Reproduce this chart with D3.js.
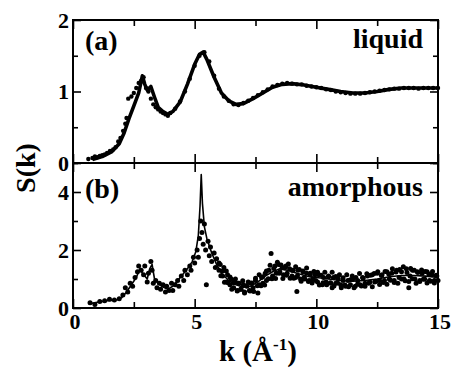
<!DOCTYPE html>
<html>
<head>
<meta charset="utf-8">
<script src="https://cdn.jsdelivr.net/npm/d3@7"></script>
<style>
  body { margin: 0; background: #fff; }
  svg { display: block; }
  .tick line { stroke: #000; stroke-width: 1.6; }
</style>
</head>
<body>
<svg width="455" height="374" font-family="'Liberation Serif', 'DejaVu Serif', serif" font-weight="bold"></svg>
<script>
// tick values
const xMajor = [0, 5, 10, 15];
const xMinor = [2.5, 7.5, 12.5];
const aMajor = [0, 1, 2];
const aMinor = [0.5, 1.5];
const bMajor = [0, 2, 4];
const bMinor = [1, 3, 5];

// (a) liquid: simulation line [k, S]
const simA = [
  [0.8, 0.05], [1.2, 0.09], [1.6, 0.16], [1.9, 0.27], [2.1, 0.42], [2.3, 0.62], [2.5, 0.8],
  [2.7, 0.98], [2.85, 1.22], [2.95, 1.1], [3.05, 1.02], [3.2, 1.07], [3.35, 0.92], [3.5, 0.78],
  [3.7, 0.72], [3.9, 0.68], [4.1, 0.72], [4.4, 0.85], [4.7, 1.1], [5.0, 1.38], [5.2, 1.52],
  [5.35, 1.55], [5.5, 1.45], [5.8, 1.2], [6.1, 0.98], [6.4, 0.87], [6.7, 0.82], [7.0, 0.83],
  [7.4, 0.9], [7.8, 0.98], [8.2, 1.06], [8.6, 1.1], [9.0, 1.11], [9.5, 1.09], [10.0, 1.06],
  [10.5, 1.03], [11.0, 1.0], [11.5, 0.98], [12.0, 0.98], [12.5, 1.0], [13.0, 1.03],
  [13.5, 1.05], [14.0, 1.05], [14.5, 1.05], [15.0, 1.05]
];

// (a) liquid: experiment points [k, S]
const expA = [
  [0.63, 0.055], [0.8, 0.07], [0.9, 0.09], [1.0, 0.08], [1.1, 0.1], [1.2, 0.11], [1.3, 0.12],
  [1.4, 0.14], [1.52, 0.17], [1.65, 0.19], [1.75, 0.22], [1.86, 0.3], [1.95, 0.35], [2.06, 0.45],
  [2.15, 0.55], [2.2, 0.63], [2.27, 0.9], [2.4, 0.93], [2.5, 0.98], [2.6, 1.05], [2.7, 1.12],
  [2.8, 1.15], [2.9, 1.2], [3.0, 1.05], [3.1, 1.0], [3.2, 0.9], [3.3, 0.82], [3.4, 0.78],
  [3.5, 0.75], [3.6, 0.72], [3.7, 0.7], [3.8, 0.68], [3.9, 0.66], [4.0, 0.7], [4.2, 0.76],
  [4.4, 0.86], [4.6, 1.0], [4.8, 1.18], [5.0, 1.36], [5.2, 1.5], [5.4, 1.55], [5.6, 1.42],
  [5.8, 1.22], [6.0, 1.04], [6.2, 0.93], [6.4, 0.87], [6.6, 0.82], [6.8, 0.81], [7.0, 0.84],
  [7.2, 0.87], [7.4, 0.91], [7.6, 0.95], [7.8, 0.99], [8.0, 1.03], [8.2, 1.07], [8.4, 1.09],
  [8.6, 1.11], [8.8, 1.12], [9.0, 1.11], [9.2, 1.1], [9.4, 1.1], [9.6, 1.08], [9.8, 1.07],
  [10.0, 1.06], [10.2, 1.05], [10.4, 1.03], [10.6, 1.02], [10.8, 1.0], [11.0, 0.99],
  [11.2, 0.98], [11.4, 0.97], [11.6, 0.97], [11.8, 0.97], [12.0, 0.98], [12.2, 0.99],
  [12.4, 1.0], [12.6, 1.01], [12.8, 1.02], [13.0, 1.03], [13.2, 1.04], [13.4, 1.04],
  [13.6, 1.05], [13.8, 1.05], [14.0, 1.05], [14.2, 1.04], [14.4, 1.05], [14.6, 1.05],
  [14.8, 1.05], [15.0, 1.05]
];

// (b) amorphous: simulation line [k, S]
const simB = [
  [0.7, 0.15], [1.0, 0.2], [1.4, 0.25], [1.8, 0.28], [2.0, 0.35], [2.2, 0.55], [2.4, 0.8],
  [2.6, 1.05], [2.75, 1.35], [2.85, 1.2], [2.95, 1.1], [3.05, 1.0], [3.15, 1.35], [3.25, 1.5],
  [3.35, 1.0], [3.5, 0.85], [3.7, 0.72], [3.9, 0.65], [4.1, 0.75], [4.3, 0.95], [4.5, 1.15],
  [4.7, 1.35], [4.9, 1.6], [5.05, 1.95], [5.15, 2.5], [5.22, 3.5], [5.27, 4.6], [5.32, 3.6],
  [5.4, 2.8], [5.5, 2.4], [5.7, 1.9], [5.9, 1.5], [6.1, 1.2], [6.4, 0.95], [6.7, 0.8],
  [7.0, 0.72], [7.3, 0.75], [7.6, 0.9], [7.9, 1.1], [8.2, 1.25], [8.5, 1.35], [8.8, 1.3],
  [9.2, 1.2], [9.6, 1.1], [10.0, 1.05], [10.5, 1.0], [11.0, 0.95], [11.5, 0.92], [12.0, 0.95],
  [12.5, 1.0], [13.0, 1.08], [13.5, 1.12], [14.0, 1.12], [14.5, 1.1], [15.0, 1.05]
];

// (b) amorphous: experiment points [k, S]
const expB = [
  [0.7, 0.18], [0.9, 0.12], [1.1, 0.22], [1.3, 0.25], [1.5, 0.3], [1.7, 0.28], [1.9, 0.32],
  [2.05, 0.45], [2.15, 0.7], [2.25, 0.55], [2.35, 0.85], [2.45, 0.75], [2.55, 1.05], [2.65, 1.25],
  [2.7, 1.45], [2.8, 1.3], [2.9, 1.15], [2.95, 1.45], [3.05, 0.9], [3.1, 1.2], [3.2, 1.6],
  [3.25, 1.3], [3.3, 0.85], [3.4, 0.95], [3.45, 0.7], [3.55, 0.85], [3.6, 0.65], [3.7, 0.8],
  [3.8, 0.55], [3.85, 0.75], [3.95, 0.6], [4.05, 0.85], [4.1, 0.6], [4.2, 0.8], [4.3, 0.95],
  [4.35, 0.75], [4.45, 1.1], [4.55, 0.95], [4.6, 1.3], [4.7, 1.15], [4.8, 1.45], [4.85, 1.3],
  [4.95, 1.75], [5.0, 1.55], [5.1, 2.0], [5.15, 1.75], [5.2, 2.4], [5.25, 3.0], [5.3, 2.6],
  [5.35, 2.2], [5.4, 2.9], [5.45, 2.0], [5.48, 0.8], [5.55, 2.3], [5.6, 1.8], [5.65, 2.1],
  [5.7, 1.6], [5.8, 1.9], [5.85, 1.4], [5.9, 1.7], [6.0, 1.3], [6.05, 1.5], [6.15, 1.1],
  [6.2, 1.4], [6.3, 0.9], [6.35, 1.15], [6.45, 0.8], [6.5, 1.0], [6.6, 0.7], [6.65, 0.9],
  [6.75, 0.6], [6.8, 0.85], [6.9, 0.65], [7.0, 0.8], [7.05, 0.55], [7.15, 0.75], [7.25, 0.6],
  [7.3, 0.85], [7.4, 0.7], [7.5, 0.95], [7.6, 0.52], [7.65, 0.8], [7.75, 1.05], [7.8, 0.85],
  [7.9, 1.2], [7.95, 0.95], [8.05, 1.3], [8.14, 1.88], [8.2, 1.1], [8.3, 1.45], [8.35, 1.2],
  [8.45, 1.5], [8.5, 1.25], [8.6, 1.4], [8.65, 1.15], [8.75, 1.45], [8.8, 1.2], [8.9, 1.35],
  [9.0, 1.1], [9.05, 1.3], [9.15, 1.05], [9.2, 0.57], [9.25, 1.3], [9.35, 1.0], [9.45, 1.25],
  [9.5, 1.05], [9.6, 1.2], [9.7, 0.95], [9.75, 1.2], [9.85, 1.0], [9.95, 1.15], [10.05, 0.9],
  [10.1, 1.15], [10.25, 0.8], [10.3, 1.05], [10.4, 0.9], [10.5, 1.1], [10.6, 0.85], [10.65, 0.7],
  [10.7, 1.05], [10.8, 0.85], [10.9, 1.0], [11.0, 0.8], [11.1, 0.95], [11.2, 0.75], [11.3, 0.95],
  [11.4, 0.8], [11.5, 1.0], [11.6, 0.75], [11.7, 0.95], [11.8, 0.8], [11.9, 1.05], [12.0, 0.85],
  [12.1, 1.1], [12.2, 0.9], [12.3, 1.15], [12.4, 0.9], [12.5, 1.2], [12.6, 0.95], [12.7, 1.15],
  [12.8, 0.95], [12.9, 1.25], [13.0, 1.0], [13.1, 1.2], [13.2, 0.95], [13.3, 1.3], [13.4, 1.05],
  [13.5, 1.25], [13.6, 1.0], [13.7, 1.35], [13.8, 0.7], [13.85, 1.1], [13.95, 1.3], [14.05, 1.0],
  [14.15, 1.25], [14.25, 0.95], [14.35, 1.2], [14.45, 1.0], [14.55, 1.25], [14.65, 0.95],
  [14.75, 1.15], [14.85, 0.95], [14.95, 1.1],
  // second scan over the high-k band
  [6.0, 1.55], [6.075, 1.11], [6.15, 1.28], [6.225, 0.89], [6.3, 1.28], [6.375, 0.87],
  [6.45, 1.07], [6.525, 0.65], [6.6, 0.87], [6.675, 1.0], [6.75, 0.59], [6.825, 0.85],
  [6.9, 0.65], [6.975, 0.94], [7.05, 0.52], [7.125, 0.77], [7.2, 0.9], [7.275, 0.59],
  [7.35, 0.86], [7.425, 0.57], [7.5, 1.03], [7.575, 0.77], [7.65, 1.15], [7.725, 0.77],
  [7.8, 1.08], [7.875, 0.79], [7.95, 1.28], [8.025, 1.01], [8.1, 1.47], [8.175, 1.01],
  [8.25, 1.36], [8.325, 1.02], [8.4, 1.58], [8.475, 1.2], [8.55, 1.48], [8.625, 1.02],
  [8.7, 1.39], [8.775, 1.13], [8.85, 1.52], [8.925, 1.03], [9.0, 1.3], [9.075, 1.03],
  [9.15, 1.42], [9.225, 1.11], [9.3, 1.33], [9.375, 0.92], [9.45, 1.28], [9.525, 1.0],
  [9.6, 1.38], [9.675, 0.91], [9.75, 1.14], [9.825, 0.86], [9.9, 1.26], [9.975, 0.95],
  [10.05, 1.23], [10.125, 0.79], [10.2, 1.13], [10.275, 0.87], [10.35, 1.23], [10.425, 0.8],
  [10.5, 1.08], [10.575, 0.87], [10.65, 1.23], [10.725, 0.76], [10.8, 1.09], [10.875, 0.86],
  [10.95, 1.15], [11.025, 0.7], [11.1, 1.04], [11.175, 0.79], [11.25, 1.15], [11.325, 0.73],
  [11.4, 0.97], [11.475, 1.1], [11.55, 0.7], [11.625, 1.05], [11.7, 0.83], [11.775, 1.19],
  [11.85, 0.76], [11.925, 1.03], [12.0, 0.75], [12.075, 1.18], [12.15, 0.85], [12.225, 1.13],
  [12.3, 0.73], [12.375, 1.19], [12.45, 0.92], [12.525, 1.25], [12.6, 0.81], [12.675, 1.12],
  [12.75, 0.88], [12.825, 1.26], [12.9, 0.82], [12.975, 1.17], [13.05, 0.96], [13.125, 1.35],
  [13.2, 0.88], [13.275, 1.24], [13.35, 0.85], [13.425, 1.33], [13.5, 1.0], [13.575, 1.42],
  [13.65, 0.94], [13.725, 1.22], [13.8, 0.91], [13.875, 1.36], [13.95, 1.01], [14.025, 1.3],
  [14.1, 0.85], [14.175, 1.22], [14.25, 0.91], [14.325, 1.31], [14.4, 0.99], [14.475, 1.26],
  [14.55, 0.86], [14.625, 1.17], [14.7, 0.92], [14.775, 1.26], [14.85, 0.86], [14.925, 1.13],
  [15.0, 0.95]
];

const svg = d3.select("svg");
const x = d3.scaleLinear().domain([0, 15]).range([73, 438]);
const yA = d3.scaleLinear().domain([0, 2]).range([163, 20]);
const yB = d3.scaleLinear().domain([0, 5]).range([308, 163]);

function drawPanel(y, major, minor, sim, exp, simWidth, dotR, label, name, textDy) {
  const g = svg.append("g");
  const [y0, y1] = y.range();

  // ticks, all pointing inward
  [[d3.axisLeft(y), `translate(${x(0)},0)`], [d3.axisRight(y), `translate(${x(15)},0)`]]
    .forEach(([ax, tr]) => {
      g.append("g").attr("transform", tr)
        .call(ax.tickValues(major).tickSize(-8).tickFormat(""))
        .call(s => s.select(".domain").remove());
      g.append("g").attr("transform", tr)
        .call(ax.tickValues(minor).tickSize(-5).tickFormat(""))
        .call(s => s.select(".domain").remove());
    });
  [[d3.axisTop(x), `translate(0,${y1})`], [d3.axisBottom(x), `translate(0,${y0})`]]
    .forEach(([ax, tr]) => {
      g.append("g").attr("transform", tr)
        .call(ax.tickValues(xMajor).tickSize(-9).tickFormat(""))
        .call(s => s.select(".domain").remove());
      g.append("g").attr("transform", tr)
        .call(ax.tickValues(xMinor).tickSize(-6).tickFormat(""))
        .call(s => s.select(".domain").remove());
    });

  // y tick labels
  g.selectAll("text.ylab").data(major).join("text")
    .attr("class", "ylab")
    .attr("x", 69)
    .attr("y", d => y(d))
    .attr("dy", "0.36em")
    .attr("text-anchor", "end")
    .attr("font-size", 22)
    .text(d => d);

  // frame
  g.append("rect")
    .attr("x", x(0)).attr("y", y1)
    .attr("width", x(15) - x(0)).attr("height", y0 - y1)
    .attr("fill", "none").attr("stroke", "#000").attr("stroke-width", 2);

  // experiment dots
  g.selectAll("circle").data(exp).join("circle")
    .attr("cx", d => x(d[0]))
    .attr("cy", d => y(d[1]))
    .attr("r", dotR)
    .attr("fill", "#000");

  // simulation line
  g.append("path")
    .datum(sim)
    .attr("fill", "none")
    .attr("stroke", "#000")
    .attr("stroke-width", simWidth)
    .attr("stroke-linejoin", "round")
    .attr("d", d3.line().x(d => x(d[0])).y(d => y(d[1])));

  g.append("text").attr("x", 85).attr("y", y1 + textDy).attr("font-size", 28).text(label);
  g.append("text").attr("x", 423).attr("y", y1 + textDy - 2).attr("text-anchor", "end")
    .attr("font-size", 28).text(name);
}

drawPanel(yA, aMajor, aMinor, simA, expA, 3.6, 2.2, "(a)", "liquid", 30);
drawPanel(yB, bMajor, bMinor, simB, expB, 1.6, 2.5, "(b)", "amorphous", 35);

// x tick labels
svg.selectAll("text.xlab").data(xMajor).join("text")
  .attr("class", "xlab")
  .attr("x", d => x(d) + 2)
  .attr("y", 329)
  .attr("text-anchor", "middle")
  .attr("font-size", 22)
  .text(d => d);

// axis titles
svg.append("text")
  .attr("transform", "translate(35,168) rotate(-90)")
  .attr("text-anchor", "middle")
  .attr("font-size", 28)
  .text("S(k)");

const xt = svg.append("text")
  .attr("x", 258).attr("y", 361)
  .attr("text-anchor", "middle")
  .attr("font-size", 29);
xt.append("tspan").text("k (Å");
xt.append("tspan").attr("dy", -11).attr("font-size", 17).text("-1");
xt.append("tspan").attr("dy", 11).text(")");
</script>
</body>
</html>
